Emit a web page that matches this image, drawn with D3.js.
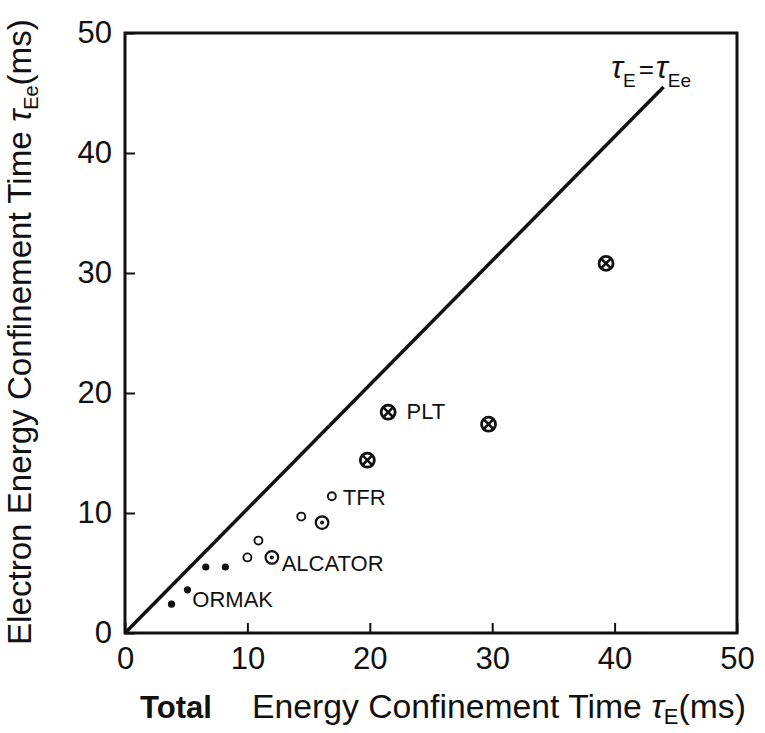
<!DOCTYPE html>
<html>
<head>
<meta charset="utf-8">
<script src="https://cdn.jsdelivr.net/npm/d3@7"></script>
<style>
  body { margin: 0; background: #fff; }
  text { font-family: "Liberation Sans", Arial, sans-serif; fill: #111; }
</style>
</head>
<body>
<script>
var settings = {
  width: 765,
  height: 733,
  left: 125,
  right: 737,
  top: 33,
  bottom: 633
}

// axis ticks
var xTicks = [0, 10, 20, 30, 40, 50];
var yTicks = [0, 10, 20, 30, 40, 50];

// tau_E = tau_Ee reference line (as drawn)
var lineData = [[0, 0], [44, 45.5]];

// machines, [tauE, tauEe] in ms
var ormakPts = [[3.8, 2.4], [5.1, 3.6], [6.6, 5.5], [8.2, 5.5]];
var openPts = [[10.0, 6.3], [10.9, 7.7], [14.4, 9.7], [16.9, 11.4]];
var dottedPts = [[12.0, 6.3], [16.1, 9.2]];
var crossPts = [[19.8, 14.4], [21.5, 18.4], [29.7, 17.4], [39.3, 30.8]];

var pointLabels = [
  {text: 'ORMAK', x: 5.5, y: 2.2},
  {text: 'ALCATOR', x: 12.8, y: 5.2},
  {text: 'TFR', x: 17.8, y: 10.7},
  {text: 'PLT', x: 23.0, y: 17.8}
];

var x = d3.scaleLinear().domain([0, 50]).range([settings.left, settings.right]);
var y = d3.scaleLinear().domain([0, 50]).range([settings.bottom, settings.top]);

var svg = d3.select('body').append('svg')
  .attr('width', settings.width)
  .attr('height', settings.height);

// frame
svg.append('rect')
  .attr('x', x(0))
  .attr('y', y(50))
  .attr('width', x(50) - x(0))
  .attr('height', y(0) - y(50))
  .style('fill', 'none')
  .style('stroke', '#111')
  .style('stroke-width', 3);

var xAxis = svg.append('g')
  .attr('transform', 'translate(0,' + settings.bottom + ')')
  .call(d3.axisBottom(x).tickValues(xTicks).tickSize(-10).tickPadding(14));
var yAxis = svg.append('g')
  .attr('transform', 'translate(' + settings.left + ',0)')
  .call(d3.axisLeft(y).tickValues(yTicks).tickSize(-10).tickPadding(13));

[xAxis, yAxis].forEach(function(a){
  a.select('.domain').remove();
  a.selectAll('line').style('stroke', '#111').style('stroke-width', 2);
  a.selectAll('text')
    .style('font-family', '"Liberation Sans", Arial, sans-serif')
    .style('font-size', '31px')
    .style('fill', '#111');
});

// reference line
svg.append('path')
  .datum(lineData)
  .attr('d', d3.line().x(function(d){return x(d[0]);}).y(function(d){return y(d[1]);}))
  .style('fill', 'none')
  .style('stroke', '#111')
  .style('stroke-width', 3.5);

var eq = svg.append('text')
  .attr('x', 611)
  .attr('y', 78)
  .style('font-size', '32px');
eq.append('tspan').style('font-style', 'italic').text('\u03C4');
eq.append('tspan').attr('dy', 9).style('font-size', '19px').text('E');
eq.append('tspan').attr('dy', -9).attr('dx', 3).style('font-size', '26px').text('=');
eq.append('tspan').attr('dx', 2).style('font-style', 'italic').text('\u03C4');
eq.append('tspan').attr('dy', 9).style('font-size', '19px').text('Ee');

// markers
svg.selectAll('circle.ormak').data(ormakPts)
  .enter().append('circle')
    .attr('class', 'ormak')
    .attr('cx', function(d){return x(d[0]);})
    .attr('cy', function(d){return y(d[1]);})
    .attr('r', 3.6)
    .style('fill', '#111');

svg.selectAll('circle.open').data(openPts)
  .enter().append('circle')
    .attr('class', 'open')
    .attr('cx', function(d){return x(d[0]);})
    .attr('cy', function(d){return y(d[1]);})
    .attr('r', 4)
    .style('fill', 'none')
    .style('stroke', '#111')
    .style('stroke-width', 1.9);

var dotted = svg.selectAll('g.dotted').data(dottedPts)
  .enter().append('g')
    .attr('class', 'dotted')
    .attr('transform', function(d){return 'translate(' + x(d[0]) + ',' + y(d[1]) + ')';});
dotted.append('circle').attr('r', 6.3).style('fill', 'none').style('stroke', '#111').style('stroke-width', 2.2);
dotted.append('circle').attr('r', 2).style('fill', '#111');

var cross = svg.selectAll('g.cross').data(crossPts)
  .enter().append('g')
    .attr('class', 'cross')
    .attr('transform', function(d){return 'translate(' + x(d[0]) + ',' + y(d[1]) + ')';});
cross.append('circle').attr('r', 7).style('fill', 'none').style('stroke', '#111').style('stroke-width', 2.8);
cross.append('path').attr('d', 'M-4.8,-4.8L4.8,4.8M-4.8,4.8L4.8,-4.8')
  .style('stroke', '#111').style('stroke-width', 2.5);

svg.selectAll('text.plabel').data(pointLabels)
  .enter().append('text')
    .attr('class', 'plabel')
    .attr('x', function(d){return x(d.x);})
    .attr('y', function(d){return y(d.y);})
    .style('font-size', '22px')
    .text(function(d){return d.text;});

// fit a text element to a given length by scaling font size
function fit(t, len){
  var w = t.node().getComputedTextLength();
  var fs = parseFloat(t.style('font-size'));
  t.style('font-size', (fs * len / w) + 'px');
}

// x title
var tot = svg.append('text')
  .attr('x', 140)
  .attr('y', 718)
  .style('font-size', '30px')
  .style('font-weight', 'bold')
  .text('Total');
fit(tot, 72);

var xt = svg.append('text')
  .attr('x', 252)
  .attr('y', 718)
  .style('font-size', '29px');
xt.append('tspan').text('Energy Confinement Time ');
xt.append('tspan').style('font-style', 'italic').text('\u03C4');
xt.append('tspan').attr('dy', 6).style('font-size', '0.65em').text('E');
xt.append('tspan').attr('dy', -6).text('(ms)');
fit(xt, 494);

// y title
var yt = svg.append('text')
  .attr('transform', 'translate(31,645) rotate(-90)')
  .style('font-size', '27px');
yt.append('tspan').text('Electron Energy Confinement Time ');
yt.append('tspan').style('font-style', 'italic').text('\u03C4');
yt.append('tspan').attr('dy', 7).style('font-size', '0.6em').text('Ee');
yt.append('tspan').attr('dy', -7).text('(ms)');
fit(yt, 626);
</script>
</body>
</html>
